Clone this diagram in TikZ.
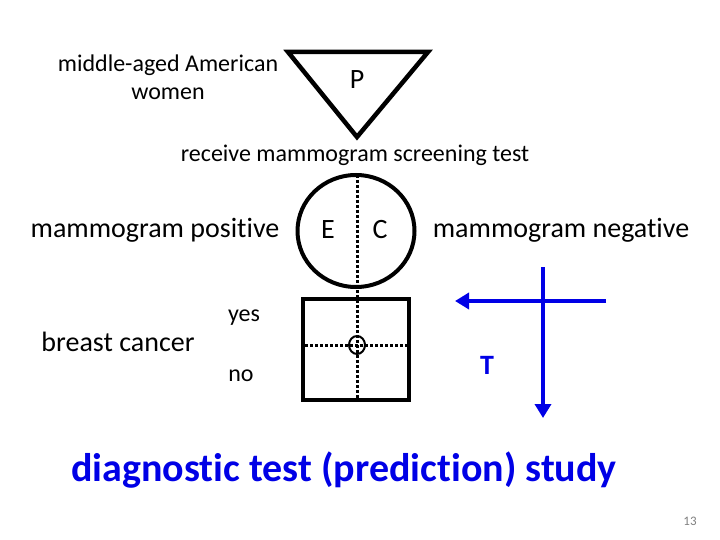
\documentclass[tikz,border=0pt]{standalone}
\usepackage{fontspec}
\setmainfont{Carlito}[Ligatures=NoCommon]
\usetikzlibrary{arrows.meta,shapes.geometric}
\definecolor{tblue}{RGB}{0,0,230}
\begin{document}
\begin{tikzpicture}[x=1pt,y=-1pt,
  thick shape/.style={draw=black,line width=4.5pt},
  dotline/.style={draw=black,line width=3pt,dash pattern=on 3pt off 2pt},
  lbl/.style={inner sep=0pt,font=\fontsize{28}{32}\selectfont},
  small/.style={inner sep=0pt,font=\fontsize{24}{28}\selectfont},
  barrow/.style={draw=tblue,line width=4.5pt,-{Triangle[length=14pt,width=16pt]}}]
\useasboundingbox (0,0) rectangle (720,540);
% triangle P
\coordinate (tl) at (288,52);
\coordinate (tr) at (428,52);
\coordinate (tb) at (357,137);
\draw[thick shape,line join=miter] (tl) -- (tr) -- (tb) -- cycle;
\node[lbl] (P) at (357,80) {P};
\node[small,align=center] (pop) at (168,77) {middle-aged American\\women};
\node[small] (recv) at (355,155) {receive mammogram screening test};
% circle
\node[thick shape,draw,ellipse,minimum width=117pt,minimum height=112pt,inner sep=0pt,line width=4pt] (circ) at (356,231) {};
\node[lbl] (E) at (328,230) {E};
\node[lbl] (C) at (380,230) {C};
\node[lbl] (mpos) at (155,230) {mammogram positive};
\node[lbl] (mneg) at (561,230) {mammogram negative};
% square
\node[draw,line width=4pt,minimum width=106pt,minimum height=101pt,inner sep=0pt] (sq) at (356,349.5) {};
\coordinate (vtop) at (357,175);
\coordinate (vbot) at (357,398);
\coordinate (hl) at (305,345);
\coordinate (hr) at (407,345);
\draw[dotline] (vtop) -- (vbot);
\draw[dotline] (hl) -- (hr);
\node[draw=black,line width=2pt,ellipse,minimum width=16pt,minimum height=18pt,inner sep=0pt] (O) at (357,345) {};
\node[lbl] (bc) at (118,342) {breast cancer};
\node[small] (yes) at (244,318) {yes};
\node[small] (no) at (241,376) {no};
% blue T
\coordinate (hs) at (606,301);
\coordinate (he) at (455,301);
\coordinate (vs) at (543,267);
\coordinate (ve) at (543,418);
\draw[barrow] (hs) -- (he);
\draw[barrow] (vs) -- (ve);
\node[lbl,text=tblue,font=\fontsize{28}{32}\selectfont\bfseries] (T) at (487,365) {T};
\node[inner sep=0pt,text=tblue,font=\fontsize{40}{46}\selectfont\bfseries] (title) at (344,470) {diagnostic test (prediction) study};
\node[inner sep=0pt,text=gray,font=\fontsize{13}{15}\selectfont] (pg) at (690,521) {13};
\end{tikzpicture}
\end{document}
